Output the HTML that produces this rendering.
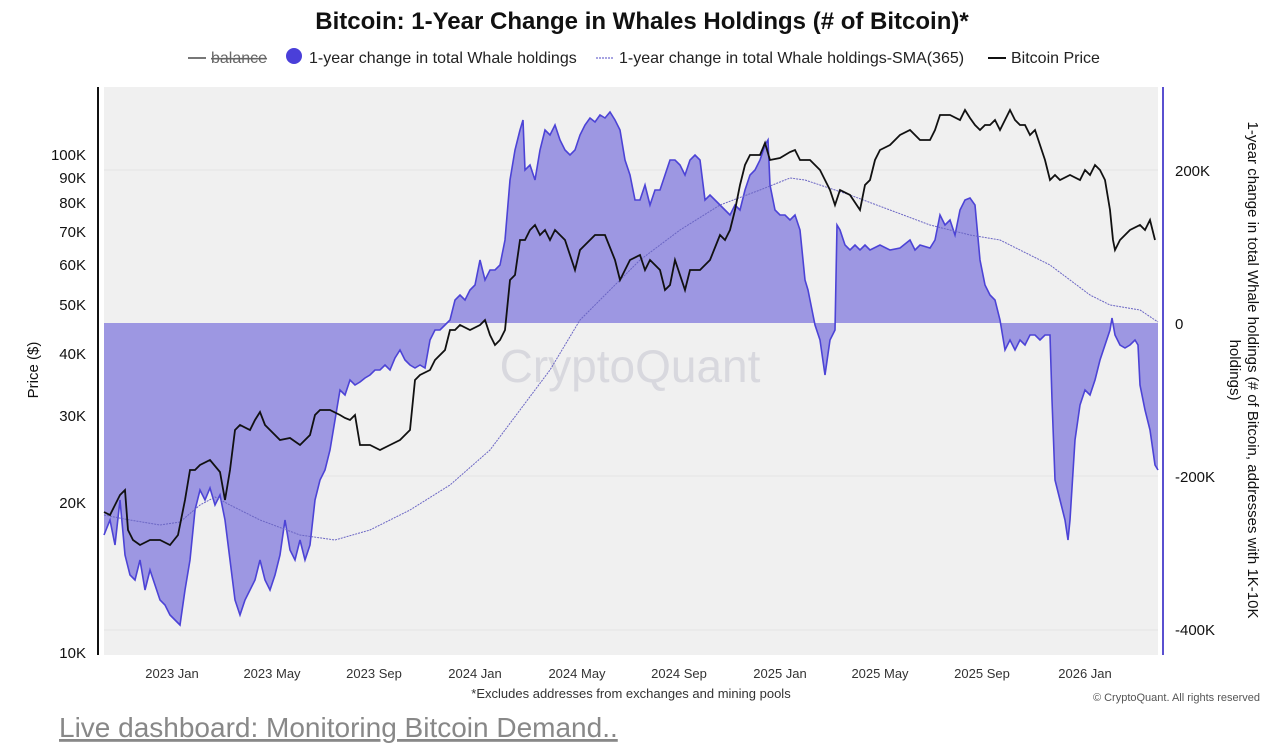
<!DOCTYPE html>
<html><head><meta charset="utf-8"><style>
body{margin:0;background:#fff;width:1280px;height:747px;overflow:hidden;font-family:"Liberation Sans",sans-serif;}
svg text{font-family:"Liberation Sans",sans-serif;}
</style></head><body>
<svg width="1280" height="747" viewBox="0 0 1280 747" xmlns="http://www.w3.org/2000/svg">
<text x="642" y="29" text-anchor="middle" font-size="24" font-weight="bold" fill="#111">Bitcoin: 1-Year Change in Whales Holdings (# of Bitcoin)*</text>
<g font-size="16" fill="#222">
<line x1="188" y1="58" x2="206" y2="58" stroke="#777" stroke-width="2"/>
<text x="211" y="63" fill="#666" text-decoration="line-through">balance</text>
<circle cx="294" cy="56" r="8" fill="#4a3fd9"/>
<text x="309" y="63">1-year change in total Whale holdings</text>
<line x1="596" y1="58" x2="614" y2="58" stroke="#8a86d8" stroke-width="1.5" stroke-dasharray="2,1"/>
<text x="619" y="63">1-year change in total Whale holdings-SMA(365)</text>
<line x1="988" y1="58" x2="1006" y2="58" stroke="#111" stroke-width="2"/>
<text x="1011" y="63">Bitcoin Price</text>
</g>
<rect x="104" y="87" width="1054" height="568" fill="#f0f0f0"/>
<g stroke="#e4e4e4" stroke-width="1">
<line x1="104" y1="170" x2="1158" y2="170"/><line x1="104" y1="476" x2="1158" y2="476"/><line x1="104" y1="630" x2="1158" y2="630"/>
</g>
<line x1="98" y1="87" x2="98" y2="655" stroke="#111" stroke-width="2"/>
<line x1="1163" y1="87" x2="1163" y2="655" stroke="#5a50d0" stroke-width="2"/>
<text x="630" y="382" text-anchor="middle" font-size="46" fill="#d8d8de">CryptoQuant</text>
<polygon fill="#9d97e2" points="104,323 104,535 110,520 115,545 120,500 125,555 130,575 135,580 140,560 145,590 150,570 155,585 160,600 165,605 170,615 175,620 180,625 185,590 190,560 195,510 200,490 205,500 210,488 215,505 220,495 225,520 230,560 235,600 240,615 245,600 250,590 255,580 260,560 265,580 270,590 275,575 280,555 285,520 290,550 295,560 300,540 305,560 310,545 315,500 320,480 325,470 330,450 335,420 340,390 345,395 350,380 355,385 360,382 365,378 370,375 375,370 380,370 385,365 390,370 395,358 400,350 405,360 410,365 415,368 420,365 425,368 430,340 435,330 440,330 445,325 450,320 455,300 460,295 465,300 470,290 475,285 480,260 485,280 490,270 495,270 500,265 505,240 510,180 515,150 520,130 523,120 525,170 530,165 535,180 540,150 545,130 550,135 555,125 560,140 565,150 570,155 575,150 580,135 585,125 590,118 595,122 600,115 605,118 610,112 615,120 620,130 625,160 630,175 635,200 640,200 645,185 650,205 655,190 660,190 665,175 670,160 675,160 680,165 685,175 690,160 695,155 700,160 705,200 710,195 715,200 720,205 725,210 730,215 735,205 740,210 745,190 750,175 755,170 760,160 765,145 768,140 770,185 775,210 780,215 785,215 790,220 795,215 800,230 805,280 808,290 810,300 815,325 820,340 825,375 830,340 835,330 837,225 840,230 845,245 850,250 855,245 860,250 865,245 870,250 880,245 890,250 900,248 910,240 915,250 920,245 930,248 935,240 940,215 945,225 950,220 955,235 960,210 965,200 970,198 975,205 980,260 985,285 990,295 995,300 1000,320 1005,350 1010,340 1015,350 1020,340 1025,345 1030,335 1035,335 1040,340 1045,335 1050,335 1052,400 1055,480 1060,500 1065,520 1068,540 1070,520 1075,440 1080,405 1085,390 1090,395 1095,380 1100,360 1105,345 1110,330 1112,318 1115,335 1120,345 1125,348 1130,345 1135,340 1138,345 1140,385 1145,410 1150,430 1155,465 1158,470 1158,323"/>
<polyline fill="none" stroke="#4c43d6" stroke-width="1.6" points="104,535 110,520 115,545 120,500 125,555 130,575 135,580 140,560 145,590 150,570 155,585 160,600 165,605 170,615 175,620 180,625 185,590 190,560 195,510 200,490 205,500 210,488 215,505 220,495 225,520 230,560 235,600 240,615 245,600 250,590 255,580 260,560 265,580 270,590 275,575 280,555 285,520 290,550 295,560 300,540 305,560 310,545 315,500 320,480 325,470 330,450 335,420 340,390 345,395 350,380 355,385 360,382 365,378 370,375 375,370 380,370 385,365 390,370 395,358 400,350 405,360 410,365 415,368 420,365 425,368 430,340 435,330 440,330 445,325 450,320 455,300 460,295 465,300 470,290 475,285 480,260 485,280 490,270 495,270 500,265 505,240 510,180 515,150 520,130 523,120 525,170 530,165 535,180 540,150 545,130 550,135 555,125 560,140 565,150 570,155 575,150 580,135 585,125 590,118 595,122 600,115 605,118 610,112 615,120 620,130 625,160 630,175 635,200 640,200 645,185 650,205 655,190 660,190 665,175 670,160 675,160 680,165 685,175 690,160 695,155 700,160 705,200 710,195 715,200 720,205 725,210 730,215 735,205 740,210 745,190 750,175 755,170 760,160 765,145 768,140 770,185 775,210 780,215 785,215 790,220 795,215 800,230 805,280 808,290 810,300 815,325 820,340 825,375 830,340 835,330 837,225 840,230 845,245 850,250 855,245 860,250 865,245 870,250 880,245 890,250 900,248 910,240 915,250 920,245 930,248 935,240 940,215 945,225 950,220 955,235 960,210 965,200 970,198 975,205 980,260 985,285 990,295 995,300 1000,320 1005,350 1010,340 1015,350 1020,340 1025,345 1030,335 1035,335 1040,340 1045,335 1050,335 1052,400 1055,480 1060,500 1065,520 1068,540 1070,520 1075,440 1080,405 1085,390 1090,395 1095,380 1100,360 1105,345 1110,330 1112,318 1115,335 1120,345 1125,348 1130,345 1135,340 1138,345 1140,385 1145,410 1150,430 1155,465 1158,470"/>
<polyline fill="none" stroke="#6b66c4" stroke-width="1" stroke-dasharray="2,1" points="104,515 130,520 160,525 180,522 200,505 215,497 230,505 260,520 300,535 335,540 370,530 410,510 450,485 490,450 520,410 550,370 580,320 610,290 640,260 680,230 720,205 760,190 790,178 805,180 820,185 850,195 890,210 930,225 970,235 1000,240 1030,255 1050,265 1070,280 1090,295 1110,305 1140,310 1158,322"/>
<polyline fill="none" stroke="#111" stroke-width="1.8" points="104,512 110,515 115,505 120,495 125,490 128,530 133,540 140,545 150,540 160,540 170,545 178,535 185,500 190,470 195,470 200,465 210,460 220,472 225,500 230,470 235,430 240,425 250,430 255,420 260,412 265,425 270,430 280,440 290,438 300,445 310,435 315,415 320,410 330,410 340,415 345,418 350,420 355,415 360,445 370,445 380,450 390,445 400,440 410,430 415,380 420,375 430,370 435,360 445,350 450,330 455,330 460,325 470,330 480,325 485,320 490,335 495,345 500,340 505,330 510,280 515,275 520,240 525,240 530,230 535,225 540,235 545,230 550,240 555,230 560,235 565,240 570,255 575,270 580,250 590,240 595,235 605,235 615,260 620,280 625,270 630,260 640,255 645,270 650,260 660,270 665,290 670,285 675,260 680,275 685,290 690,270 700,270 710,260 720,235 725,240 730,230 735,210 740,185 745,165 750,155 760,155 765,143 770,160 780,158 790,152 795,150 800,160 810,160 820,170 825,180 830,190 835,205 840,190 850,195 860,210 865,185 870,180 875,160 880,150 890,145 900,135 910,130 920,140 930,140 935,130 940,115 950,115 960,120 965,110 970,118 975,125 980,130 985,125 990,125 995,120 1000,130 1010,110 1015,120 1020,125 1025,125 1030,135 1035,130 1040,145 1045,160 1050,180 1055,175 1060,180 1070,175 1080,180 1085,170 1090,175 1095,165 1100,170 1105,180 1110,210 1113,240 1115,250 1120,240 1130,230 1140,225 1145,230 1150,220 1155,240"/>
<g font-size="15" fill="#111" text-anchor="end">
<text x="86" y="160">100K</text><text x="86" y="183">90K</text><text x="86" y="208">80K</text><text x="86" y="237">70K</text><text x="86" y="270">60K</text><text x="86" y="310">50K</text><text x="86" y="359">40K</text><text x="86" y="421">30K</text><text x="86" y="508">20K</text><text x="86" y="658">10K</text>
</g>
<g font-size="15" fill="#111">
<text x="1175" y="176">200K</text><text x="1175" y="329">0</text><text x="1175" y="482">-200K</text><text x="1175" y="635">-400K</text>
</g>
<text transform="translate(38,370) rotate(-90)" text-anchor="middle" font-size="15" fill="#111">Price ($)</text>
<text transform="translate(1248,370) rotate(90)" text-anchor="middle" font-size="15" fill="#111">1-year change in total Whale holdings (# of Bitcoin, addresses with 1K-10K</text>
<text transform="translate(1230,370) rotate(90)" text-anchor="middle" font-size="15" fill="#111">holdings)</text>
<g font-size="13" fill="#333" text-anchor="middle">
<text x="172" y="678">2023 Jan</text><text x="272" y="678">2023 May</text><text x="374" y="678">2023 Sep</text><text x="475" y="678">2024 Jan</text><text x="577" y="678">2024 May</text><text x="679" y="678">2024 Sep</text><text x="780" y="678">2025 Jan</text><text x="880" y="678">2025 May</text><text x="982" y="678">2025 Sep</text><text x="1085" y="678">2026 Jan</text>
</g>
<text x="631" y="698" text-anchor="middle" font-size="13" fill="#333">*Excludes addresses from exchanges and mining pools</text>
<text x="1260" y="701" text-anchor="end" font-size="11" fill="#555">© CryptoQuant. All rights reserved</text>
<text x="59" y="737" font-size="28" fill="#888" text-decoration="underline">Live dashboard: Monitoring Bitcoin Demand..</text>
</svg>
</body></html>
